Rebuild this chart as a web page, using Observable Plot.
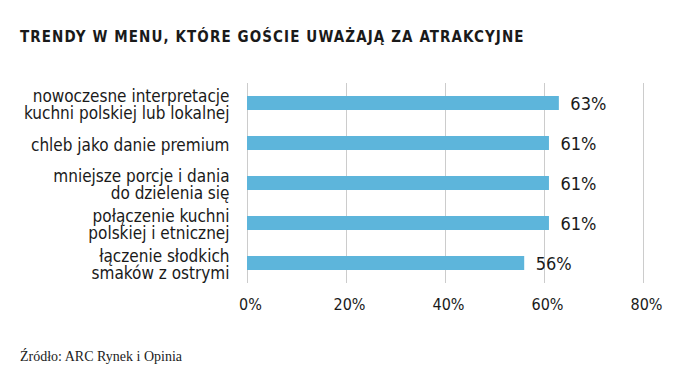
<!DOCTYPE html>
<html>
<head>
<meta charset="utf-8">
<script src="https://cdn.jsdelivr.net/npm/d3@7"></script>
<script src="https://cdn.jsdelivr.net/npm/@observablehq/plot@0.6"></script>
<style>
  html, body { margin: 0; padding: 0; background: #fff; }
  #wrap { position: relative; width: 675px; height: 376px; overflow: hidden; }
  #title { position: absolute; left: 20px; top: 30px; font-family: "DejaVu Sans Condensed", "DejaVu Sans", sans-serif; font-weight: bold; font-size: 15px; line-height: 15px; letter-spacing: 1.1px; color: #1a1a1a; white-space: nowrap; }
  #chart { position: absolute; left: 0; top: 60px; }
  #caption { position: absolute; left: 20px; top: 350px; font-family: "Liberation Serif", serif; font-size: 14px; line-height: 14px; color: #222; white-space: nowrap; }
</style>
</head>
<body>
<div id="wrap">
  <div id="title">TRENDY W MENU, KTÓRE GOŚCIE UWAŻAJĄ ZA ATRAKCYJNE</div>
  <div id="chart"></div>
  <div id="caption">Źródło: ARC Rynek i Opinia</div>
</div>
<script>
const categories = [
  "nowoczesne interpretacje\nkuchni polskiej lub lokalnej",
  "chleb jako danie premium",
  "mniejsze porcje i dania\ndo dzielenia się",
  "połączenie kuchni\npolskiej i etnicznej",
  "łączenie słodkich\nsmaków z ostrymi"
];
const values = [63, 61, 61, 61, 56];
const xTicks = [0, 20, 40, 60, 80];

const data = categories.map((c, i) => ({cat: c, value: values[i]}));
const barColor = "#5db5db";

const plot = Plot.plot({
  width: 675,
  height: 260,
  marginLeft: 247,
  marginRight: 32,
  marginTop: 23,
  marginBottom: 37,
  style: {fontFamily: "'DejaVu Sans Condensed', 'DejaVu Sans', sans-serif", color: "#1a1a1a", background: "transparent"},
  x: {domain: [0, 80], label: null},
  y: {domain: categories, paddingInner: 0.64, paddingOuter: 0.32, axis: null},
  marks: [
    Plot.gridX(xTicks, {stroke: "#cccccc", strokeOpacity: 1, strokeWidth: 1}),
    Plot.barX(data, {x: "value", y: "cat", fill: barColor}),
    Plot.text(data, {x: "value", y: "cat", text: d => d.value + "%", dx: 11, dy: 1, textAnchor: "start", fontSize: 18, fill: "#1a1a1a"}),
    Plot.text(data, {x: 0, y: "cat", text: "cat", dx: -18, dy: 2, textAnchor: "end", lineAnchor: "middle", lineHeight: 1.0, fontSize: 17, fill: "#1a1a1a"}),
    Plot.axisX(xTicks, {tickSize: 0, tickPadding: 15, tickFormat: d => d + "%", fontSize: 16, dx: 3, fill: "#1a1a1a", label: null})
  ]
});
document.getElementById("chart").appendChild(plot);
</script>
</body>
</html>
